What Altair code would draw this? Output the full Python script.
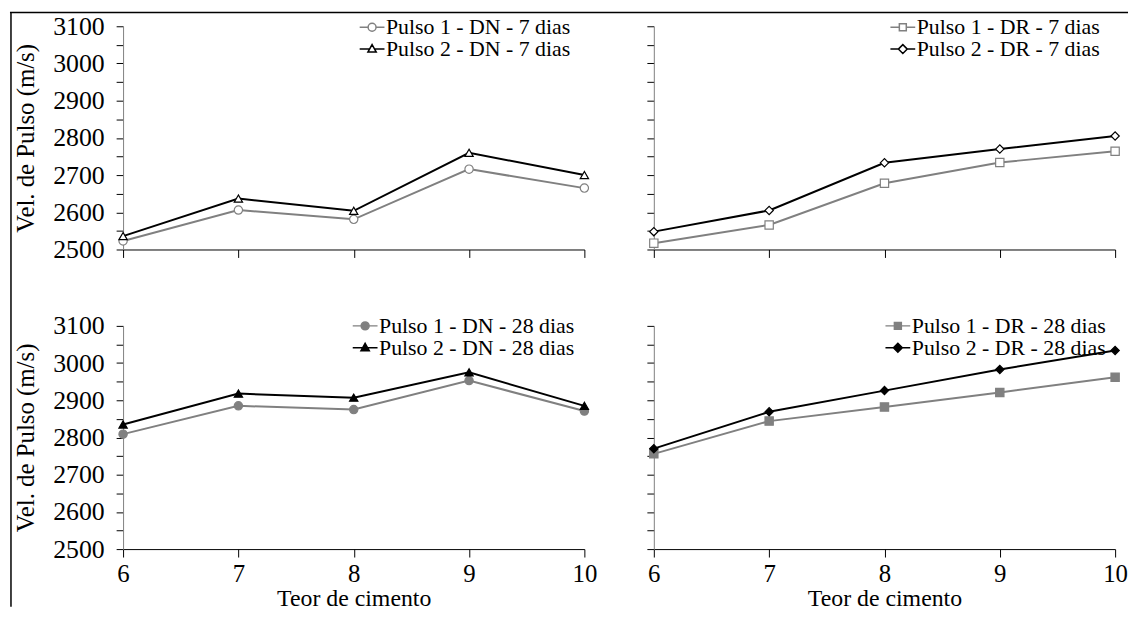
import altair as alt
import pandas as pd

# ---------------- data ----------------
teor = [6, 7, 8, 9, 10]

dn7_p1 = [2523, 2606, 2581, 2716, 2665]
dn7_p2 = [2536, 2637, 2604, 2760, 2700]
dr7_p1 = [2517, 2566, 2678, 2734, 2764]
dr7_p2 = [2548, 2605, 2733, 2770, 2805]
dn28_p1 = [2809, 2885, 2875, 2953, 2871]
dn28_p2 = [2835, 2918, 2907, 2975, 2885]
dr28_p1 = [2756, 2844, 2882, 2921, 2962]
dr28_p2 = [2770, 2869, 2926, 2983, 3034]

names_tl = ["Pulso 1 - DN - 7 dias", "Pulso 2 - DN - 7 dias"]
names_tr = ["Pulso 1 - DR - 7 dias", "Pulso 2 - DR - 7 dias"]
names_bl = ["Pulso 1 - DN - 28 dias", "Pulso 2 - DN - 28 dias"]
names_br = ["Pulso 1 - DR - 28 dias", "Pulso 2 - DR - 28 dias"]

x_ticks = [6, 7, 8, 9, 10]
y_ticks = list(range(2500, 3101, 50))
y_title = "Vel. de Pulso (m/s)"
x_title = "Teor de cimento"

# ---------------- styling ----------------
FONT = "Liberation Serif"
GRAY = "#808080"
BLACK = "#000000"
WHITE = "#ffffff"
W, H = 465, 225

# legend symbols: marker with a short line through it
PATHS = {
    "circle": "M-1.25,0H-0.4M0.4,0H1.25M-0.4,0A0.4,0.4 0 1,1 0.4,0A0.4,0.4 0 1,1 -0.4,0Z",
    "triangle-up": "M-1.25,0H-0.25M0.25,0H1.25M0,-0.45L0.42,0.3L-0.42,0.3Z",
    "square": "M-1.25,0H-0.35M0.35,0H1.25M-0.35,-0.35H0.35V0.35H-0.35Z",
    "diamond": "M-1.25,0H-0.45M0.45,0H1.25M0,-0.45L0.45,0L0,0.45L-0.45,0Z",
}


def panel(p1, p2, names, shapes, hollow, show_x, show_y, lx, ly, frame=False):
    d1 = pd.DataFrame({"Teor": teor, "Vel": p1})
    d2 = pd.DataFrame({"Teor": teor, "Vel": p2})
    dl = pd.DataFrame({"Teor": teor + teor, "Vel": p1 + p2,
                       "Serie": [names[0]] * 5 + [names[1]] * 5})

    x_axis = alt.Axis(values=x_ticks, format="d", labels=show_x,
                      title=x_title if show_x else None,
                      tickSize=8, labelPadding=5, titlePadding=0,
                      labelFontSize=25, titleFontSize=24,
                      labelFlush=False, domainColor=BLACK, tickColor=BLACK)
    y_axis = alt.Axis(values=y_ticks, format="d", labels=show_y,
                      labelExpr="datum.value % 100 == 0 ? datum.label : ''",
                      title=y_title if show_y else None,
                      tickSize=7, labelPadding=12, titlePadding=14,
                      labelFontSize=26, titleFontSize=25,
                      labelFlush=False, labelOverlap=False,
                      domainColor=GRAY, tickColor=BLACK)
    x = alt.X("Teor:Q", scale=alt.Scale(domain=[6, 10], nice=False, zero=False), axis=x_axis)
    y = alt.Y("Vel:Q", scale=alt.Scale(domain=[2500, 3100], nice=False, zero=False), axis=y_axis)

    fills = [WHITE, WHITE] if hollow else [GRAY, BLACK]

    line1 = alt.Chart(d1).mark_line(color=GRAY, strokeWidth=2).encode(x=x, y=y)
    line2 = alt.Chart(d2).mark_line(color=BLACK, strokeWidth=2).encode(x=x, y=y)
    pt1 = alt.Chart(d1).mark_point(shape=shapes[0], size=70, filled=True, fill=fills[0],
                                   stroke=GRAY, strokeWidth=1.2, opacity=1).encode(x=x, y=y)
    pt2 = alt.Chart(d2).mark_point(shape=shapes[1], size=70, filled=True, fill=fills[1],
                                   stroke=BLACK, strokeWidth=1.2, opacity=1).encode(x=x, y=y)

    legend = alt.Legend(title=None, orient="none", legendX=lx, legendY=ly,
                        symbolSize=400, symbolStrokeWidth=1.5, symbolOpacity=1,
                        labelFont=FONT, labelFontSize=22, labelColor=BLACK,
                        labelOffset=3, rowPadding=-1, padding=0, labelLimit=400)
    leg = alt.Chart(dl).mark_point(opacity=0).encode(
        x=x, y=y,
        shape=alt.Shape("Serie:N", scale=alt.Scale(domain=names, range=[PATHS[s] for s in shapes]),
                        legend=legend),
        stroke=alt.Stroke("Serie:N", scale=alt.Scale(domain=names, range=[GRAY, BLACK]),
                          legend=legend),
        fill=alt.Fill("Serie:N", scale=alt.Scale(domain=names, range=fills), legend=legend),
    )

    layers = [line1, line2, pt1, pt2, leg]
    if frame:
        one = pd.DataFrame({"k": [0]})
        top = alt.Chart(one).mark_rule(color=BLACK, strokeWidth=1.5).encode(
            x=alt.value(-114), x2=alt.value(1013), y=alt.value(-14))
        left = alt.Chart(one).mark_rule(color=BLACK, strokeWidth=1.5).encode(
            x=alt.value(-113), y=alt.value(-14), y2=alt.value(585))
        layers += [top, left]
    return alt.layer(*layers).properties(width=W, height=H)


tl = panel(dn7_p1, dn7_p2, names_tl, ["circle", "triangle-up"], True, False, True, 240, -10, frame=True)
tr = panel(dr7_p1, dr7_p2, names_tr, ["square", "diamond"], True, False, False, 240, -10)
bl = panel(dn28_p1, dn28_p2, names_bl, ["circle", "triangle-up"], False, True, True, 233, -11)
br = panel(dr28_p1, dr28_p2, names_br, ["square", "diamond"], False, True, False, 235, -11)

chart = alt.concat(
    tl, tr, bl, br, columns=2,
    spacing={"row": 77, "column": 70}, bounds="flush",
    padding={"left": 0, "top": 0, "right": 0, "bottom": 0},
).resolve_scale(
    shape="independent", stroke="independent", fill="independent"
).resolve_legend(
    shape="independent", stroke="independent", fill="independent"
).configure(font=FONT).configure_view(stroke="transparent").configure_axis(
    labelFont=FONT, titleFont=FONT,
    labelColor=BLACK, titleColor=BLACK, titleFontWeight="normal",
    grid=False, domainWidth=1, tickWidth=1,
)

chart.save("out.html", embed_options={"renderer": "svg", "actions": False})
